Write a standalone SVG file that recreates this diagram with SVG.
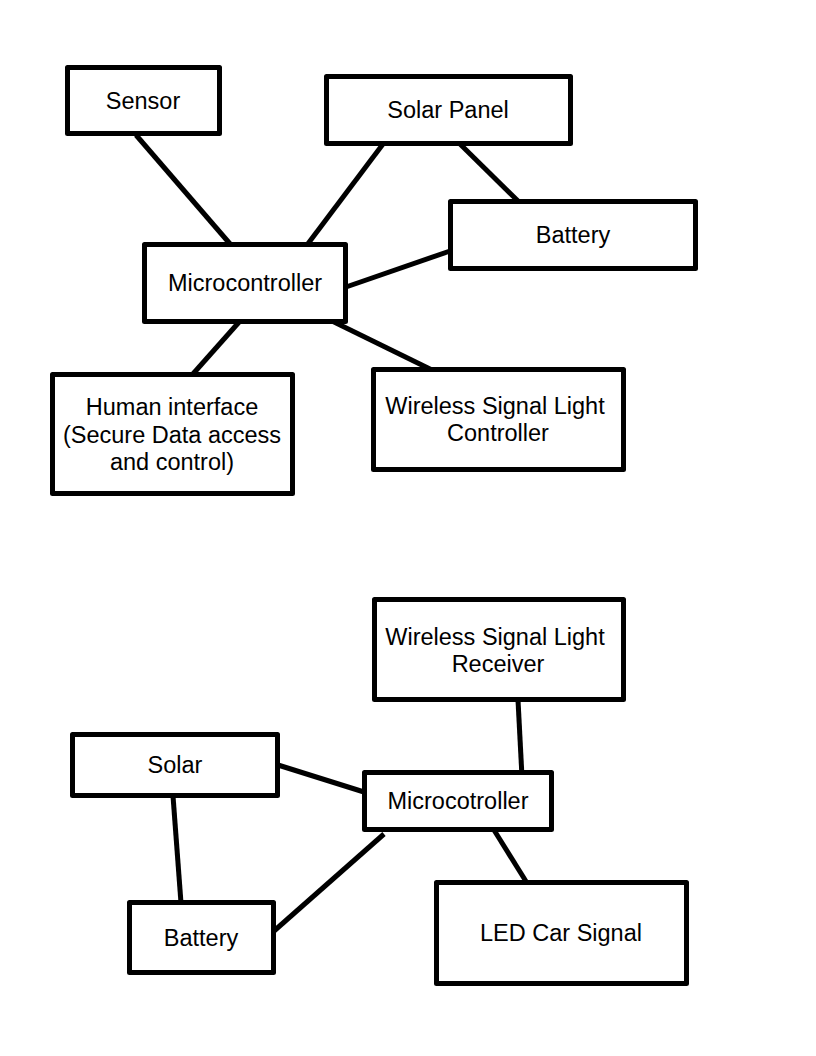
<svg xmlns="http://www.w3.org/2000/svg" width="816" height="1056" viewBox="0 0 816 1056">
<style>
.box{fill:#fff;stroke:#000;stroke-width:5;stroke-linejoin:round}
.ln{stroke:#000;stroke-width:5;fill:none}
text{font-family:"Liberation Sans",Arial,sans-serif;font-size:23.5px;fill:#000;text-anchor:middle}
</style>
<rect width="816" height="1056" fill="#fff"/>
<g id="connectors">
<line class="ln" x1="136" y1="135" x2="231" y2="245"/>
<line class="ln" x1="383" y1="144" x2="307" y2="245"/>
<line class="ln" x1="460" y1="144" x2="518" y2="201"/>
<line class="ln" x1="450" y1="251" x2="346" y2="287"/>
<line class="ln" x1="240" y1="321" x2="192" y2="375"/>
<line class="ln" x1="332" y1="321" x2="432" y2="370"/>
<line class="ln" x1="518" y1="700" x2="522" y2="777"/>
<line class="ln" x1="278" y1="765" x2="364" y2="792"/>
<line class="ln" x1="173" y1="796" x2="181" y2="903"/>
<line class="ln" x1="384" y1="834" x2="274" y2="931"/>
<line class="ln" x1="494" y1="830" x2="527" y2="883"/>
</g>
<g id="sensor"><rect class="box" x="67.5" y="67.5" width="152" height="66"/><text x="143" y="109">Sensor</text></g>
<g id="solar-panel"><rect class="box" x="326.5" y="76.5" width="244" height="67"/><text x="448" y="118">Solar Panel</text></g>
<g id="battery-top"><rect class="box" x="450.5" y="201.5" width="245" height="67"/><text x="573" y="243">Battery</text></g>
<g id="microcontroller"><rect class="box" x="144.5" y="244.5" width="201" height="77"/><text x="245" y="291">Microcontroller</text></g>
<g id="human-interface"><rect class="box" x="52.5" y="374.5" width="240" height="119"/><text x="172" y="415">Human interface</text><text x="172" y="443">(Secure Data access</text><text x="172" y="470">and control)</text></g>
<g id="wireless-controller"><rect class="box" x="373.5" y="369.5" width="250" height="100"/><text x="495" y="414">Wireless Signal Light</text><text x="498" y="441">Controller</text></g>
<g id="wireless-receiver"><rect class="box" x="374.5" y="599.5" width="249" height="100"/><text x="495" y="645">Wireless Signal Light</text><text x="498" y="672">Receiver</text></g>
<g id="solar"><rect class="box" x="72.5" y="734.5" width="205" height="61"/><text x="175" y="773">Solar</text></g>
<g id="microcotroller"><rect class="box" x="364.5" y="772.5" width="187" height="57"/><text x="458" y="809">Microcotroller</text></g>
<g id="battery-bottom"><rect class="box" x="129.5" y="902.5" width="144" height="70"/><text x="201" y="946">Battery</text></g>
<g id="led-car-signal"><rect class="box" x="436.5" y="882.5" width="250" height="101"/><text x="561" y="941">LED Car Signal</text></g>
</svg>
